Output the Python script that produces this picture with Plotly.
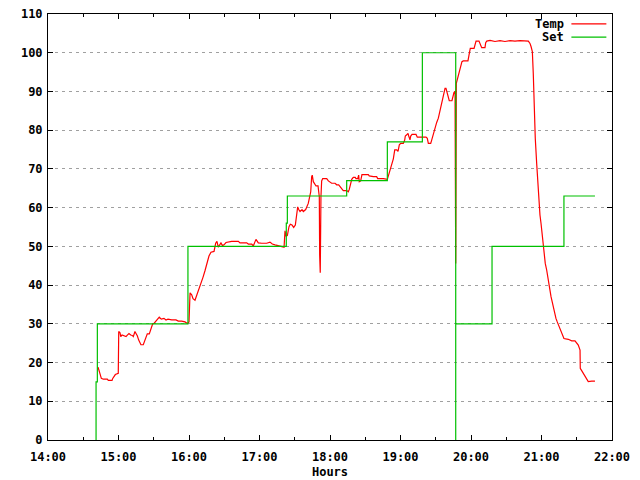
import pandas as pd
import plotly.graph_objects as go

# Time in minutes after 14:00, and values
TEMP_MIN = [42.6, 43.4, 44.3, 45.4, 47.1, 50.5, 51.3, 54.5, 55.1, 56.2, 57.3, 59.8, 60.2, 61.3, 61.9, 63.0,
            64.1, 66.4, 67.5, 68.9, 70.4, 71.7, 72.6, 74.0, 74.9, 76.0, 77.2, 78.3, 79.1, 81.1, 82.0, 83.4,
            84.5, 86.2, 87.4, 88.5, 89.1, 90.2, 91.9, 93.6, 94.7, 96.4, 98.7, 100.4, 102.1, 105.3, 108.9,
            110.9, 113.8, 116.6, 118.6, 120.0, 120.9, 122.3, 123.4, 125.1, 126.8, 128.5, 130.2, 131.9,
            133.6, 135.3, 137.0, 138.7, 141.3, 142.7, 143.8, 144.9, 147.2, 148.5, 149.8, 151.5, 152.9,
            156.3, 162.0, 163.4, 169.1, 170.5, 173.4, 174.7, 177.0, 179.0, 181.9, 186.1, 188.9, 190.9,
            193.2, 197.4, 198.9, 200.9, 201.3, 201.7, 202.6, 203.7, 205.1, 206.2, 207.7, 209.1, 210.5,
            211.7, 212.5, 213.4, 214.5, 216.2, 217.3, 219.3, 220.2, 221.5, 222.4, 223.6, 224.4, 224.9,
            225.8, 227.0, 228.1, 229.8, 230.9, 231.2, 231.7, 232.3, 232.9, 233.8, 237.2, 238.6, 240.0,
            241.4, 244.3, 245.7, 247.4, 248.5, 250.0, 251.3, 254.2, 255.6, 256.4, 257.3, 258.5, 259.8,
            261.5, 262.1, 263.6, 264.4, 264.9, 266.1, 267.2, 272.6, 273.4, 276.9, 279.7, 280.6, 285.4,
            288.8, 289.6, 290.5, 291.7, 292.8, 293.9, 295.1, 296.8, 297.9, 299.0, 300.2, 302.4, 303.6,
            304.1, 305.3, 306.4, 307.0, 308.1, 308.7, 309.8, 313.2, 314.3, 321.7, 322.8, 323.7, 325.7,
            326.6, 327.4, 328.5, 329.6, 330.8, 332.2, 333.0, 334.2, 335.3, 336.2, 337.0, 337.9, 338.7,
            339.6, 340.7, 341.5, 343.8, 344.4, 345.5, 346.4, 347.0, 347.5, 348.3, 349.2, 350.0, 351.2,
            352.3, 353.4, 357.4, 358.3, 359.4, 362.6, 363.4, 364.3, 366.8, 367.7, 369.1, 371.9, 372.5,
            373.4, 376.2, 380.4, 384.7, 388.9, 393.2, 397.4, 401.7, 408.8, 410.2, 411.1, 412.2, 413.0,
            413.9, 414.7, 415.9, 416.8, 417.6, 418.7, 419.6, 420.4, 421.5, 422.4, 423.2, 424.4, 425.3,
            426.4, 427.2, 428.1, 429.2, 430.0, 431.2, 432.3, 433.4, 434.9, 436.3, 437.7, 439.1, 442.8,
            445.7, 448.5, 450.0, 451.3, 452.8, 453.0, 454.2, 455.6, 457.0, 458.5, 459.8, 462.7, 465.5]
TEMP_VAL = [18.8, 17.9, 17.4, 15.9, 15.7, 15.7, 15.4, 15.4, 15.9, 16.3, 16.9, 17.2, 28.0, 27.7, 26.7, 27.1,
            27.0, 26.7, 27.1, 27.5, 27.1, 27.0, 26.7, 28.0, 27.5, 26.9, 25.8, 25.1, 24.6, 24.6, 25.4, 26.2,
            27.4, 27.4, 28.6, 29.3, 30.0, 30.1, 30.8, 31.4, 31.7, 31.2, 31.4, 31.0, 31.2, 31.0, 31.0,
            30.7, 30.7, 30.5, 30.1, 30.5, 38.0, 37.5, 36.5, 36.1, 37.5, 39.0, 40.5, 42.0,
            43.7, 45.5, 47.5, 48.5, 48.7, 50.8, 51.3, 49.8, 50.9, 50.2, 50.4, 51.0, 51.1,
            51.3, 51.3, 50.9, 50.9, 50.6, 50.6, 50.1, 51.8, 50.9, 50.8, 50.8, 51.1, 50.6,
            50.4, 50.1, 49.8, 49.8, 51.9, 54.0, 52.7, 52.8, 55.1, 55.7, 55.5, 54.9, 55.5,
            58.1, 60.2, 59.5, 59.0, 59.5, 59.0, 59.5, 60.2, 61.1, 62.4, 64.1, 68.0, 68.4,
            66.7, 66.1, 65.6, 65.6, 62.8, 47.8, 43.2, 62.8, 66.9, 67.5, 67.5, 66.9, 66.7,
            66.3, 66.3, 65.9, 65.9, 65.4, 65.0, 64.4, 64.4, 64.1, 64.7, 66.3, 67.3, 67.8,
            67.8, 67.5, 67.5, 68.4, 66.7, 66.9, 68.5, 68.5, 68.2, 68.0, 68.0, 67.5, 67.5,
            67.3, 68.2, 68.9, 70.1, 71.4, 72.6, 74.9, 74.9, 74.5, 76.2, 76.6, 76.6, 77.5,
            78.5, 78.8, 79.2, 78.5, 77.5, 78.5, 78.9, 78.9, 78.2, 78.2, 77.9, 76.6, 76.6,
            77.5, 78.5, 79.6, 80.9, 82.0, 83.1, 84.2, 85.4, 87.1, 88.6, 89.9, 90.8, 90.8,
            89.7, 88.6, 87.6, 87.6, 88.5, 89.7, 90.0, 45.6, 92.1, 93.1, 94.5, 95.1, 96.4,
            97.7, 97.9, 97.9, 99.4, 101.1, 101.1, 102.4, 103.0, 103.0, 102.4, 101.3, 101.3, 102.6,
            103.0, 103.2, 102.9, 103.1, 102.9, 103.1, 103.0, 103.1, 103.0, 102.4, 101.6, 100.3, 94.7,
            85.2, 77.9, 71.4, 66.3, 61.5, 58.1, 55.9, 53.4, 49.9, 47.3, 45.6, 43.9, 41.8,
            40.0, 38.7, 37.0, 35.3, 34.0, 32.7, 31.4, 30.5, 29.3, 28.0, 26.9, 26.2, 26.0,
            25.6, 25.6, 25.1, 24.5, 23.2, 18.5, 17.9, 17.2, 16.5, 15.9, 15.1, 15.2, 15.2]

SET_MIN = [40.9, 40.9, 42.0, 119.1, 202.8, 203.7, 254.2, 288.8, 318.6, 347.0, 347.0, 377.9, 439.1, 465.5]
SET_VAL = [0, 15, 30, 50, 56, 63, 67, 77, 100, 0, 30, 50, 63, 63]

X_START = "2000-01-01 14:00"
X_END = "2000-01-01 22:00"
Y_TICKS = list(range(0, 111, 10))

base = pd.Timestamp(X_START)
temp_t = base + pd.to_timedelta(TEMP_MIN, unit="min")
set_t = base + pd.to_timedelta(SET_MIN, unit="min")

FONT = dict(family="DejaVu Sans Mono", size=12, color="black", weight="bold")
RED = "#ff0000"
GREEN = "#00c000"

fig = go.Figure()
fig.add_trace(go.Scatter(x=temp_t, y=TEMP_VAL, mode="lines", name="Temp",
                         line=dict(color=RED, width=1.2), showlegend=False))
fig.add_trace(go.Scatter(x=set_t, y=SET_VAL, mode="lines", name="Set", line_shape="hv",
                         line=dict(color=GREEN, width=1.2), showlegend=False))

# gnuplot-style key: text right-aligned, sample line to the right
for i, (name, col) in enumerate([("Temp", RED), ("Set", GREEN)]):
    yp = 0.977 - i * 0.0315
    fig.add_annotation(xref="paper", yref="paper", x=0.918, y=yp, text=name, showarrow=False,
                       xanchor="right", yanchor="middle", font=FONT)
    fig.add_shape(type="line", xref="paper", yref="paper", x0=0.928, x1=0.99, y0=yp, y1=yp,
                  line=dict(color=col, width=1.2))

fig.update_layout(
    width=640, height=480,
    margin=dict(l=48, r=28, t=14, b=40, autoexpand=False),
    paper_bgcolor="white", plot_bgcolor="white",
    font=FONT,
)
fig.update_xaxes(
    type="date", range=[X_START, X_END], tickformat="%H:%M", dtick=3600000,
    automargin=False,
    showline=True, linecolor="black", linewidth=1, mirror="ticks",
    ticks="inside", ticklen=5, tickcolor="black", showgrid=False, zeroline=False,
    minor=dict(dtick=1800000, ticks="inside", ticklen=3, tickcolor="black", showgrid=False),
    tickfont=FONT, ticklabelstandoff=6, title=dict(text="Hours", font=FONT, standoff=4),
)
fig.update_yaxes(
    range=[0, 110], tickvals=Y_TICKS, automargin=False,
    showline=True, linecolor="black", linewidth=1, mirror="ticks",
    ticks="inside", ticklen=5, tickcolor="black",
    showgrid=True, gridcolor="#a0a0a0", griddash="3px,4px", gridwidth=1, zeroline=False,
    tickfont=FONT, ticklabelstandoff=2,
)

fig.write_html("out.html", config={"displayModeBar": False},
               post_script="document.body.style.margin='0';")
